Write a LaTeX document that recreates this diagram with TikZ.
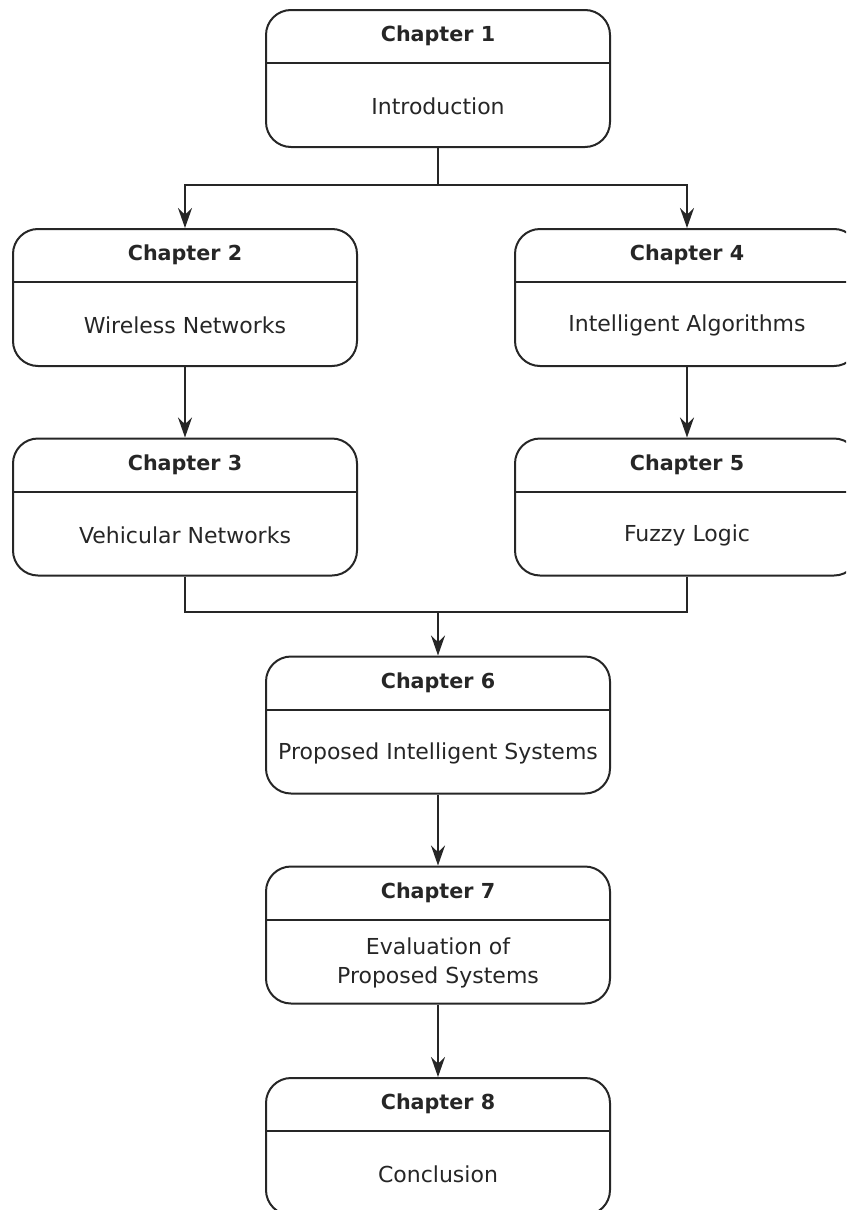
\documentclass[tikz,border=0pt]{standalone}
\usepackage{fontspec}
\setmainfont{DejaVu Sans}
\usetikzlibrary{arrows.meta}

\begin{document}
\begin{tikzpicture}[x=0.75pt, y=-0.75pt,
        line width=1.5pt, draw=black!85, text=black!85,
        chapbox/.style={draw, rounded corners=18.75pt, minimum width=258pt, minimum height=102.75pt, inner sep=0pt},
        head/.style={font=\fontsize{15.5}{18}\selectfont\bfseries},
        body/.style={font=\fontsize{16.5}{22}\selectfont, align=center},
        arrow/.style={-{Stealth[length=15pt, width=10.5pt, inset=5pt]}}]
    % Bildgrenzen
    \clip (0,0) rectangle (846,1210);

    % Kapitel
    \foreach \n/\x/\y/\txt in {
        1/438/78.5/Introduction,
        2/185/297.5/Wireless Networks,
        3/185/507/Vehicular Networks,
        4/687/297.5/Intelligent Algorithms,
        5/687/507/Fuzzy Logic,
        6/438/725/Proposed Intelligent Systems,
        7/438/935/{Evaluation of\\Proposed Systems},
        8/438/1146.5/Conclusion}
    {
        \node[chapbox] (ch\n) at (\x,\y) {};
        \draw ([yshift=-40.5pt]ch\n.north west) -- ([yshift=-40.5pt]ch\n.north east);
        \node[head] (head\n) at ([yshift=-20.25pt]ch\n.north) {Chapter \n};
        \node[body] (body\n) at ([yshift=31.1pt]ch\n.south) {\txt};
    }

    % Verzweigung nach Kapitel 1
    \coordinate (split) at (438,185);
    \draw (ch1.south) -- (split);
    \draw[arrow] (split) -| (ch2.north);
    \draw[arrow] (split) -| (ch4.north);

    % Linke und rechte Spalte
    \draw[arrow] (ch2.south) -- (ch3.north);
    \draw[arrow] (ch4.south) -- (ch5.north);

    % Zusammenfuehrung vor Kapitel 6
    \coordinate (merge) at (438,612);
    \draw (ch3.south) |- (merge);
    \draw (ch5.south) |- (merge);
    \draw[arrow] (merge) -- (ch6.north);

    % Mittlere Spalte
    \draw[arrow] (ch6.south) -- (ch7.north);
    \draw[arrow] (ch7.south) -- (ch8.north);
\end{tikzpicture}
\end{document}
